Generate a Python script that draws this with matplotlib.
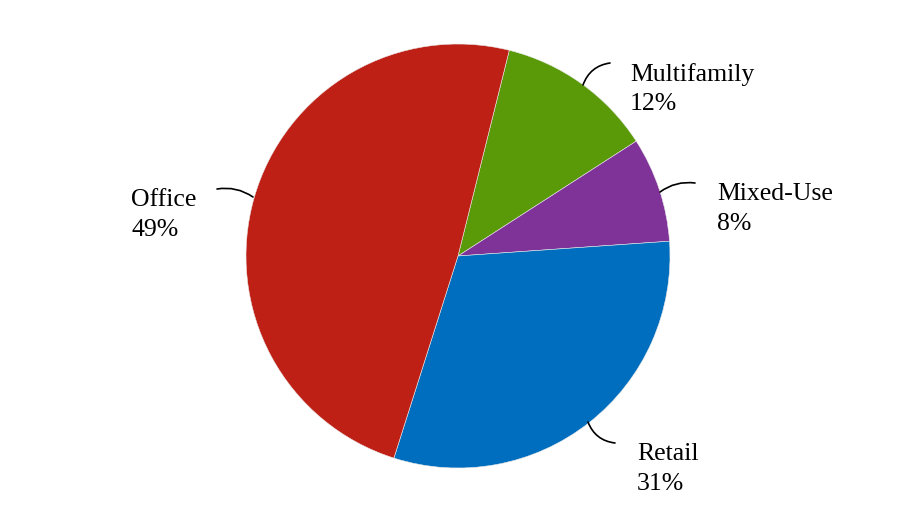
import matplotlib
matplotlib.use("Agg")
import matplotlib.pyplot as plt

categories = ["Multifamily", "Mixed-Use", "Retail", "Office"]
values = [12, 8, 31, 49]
colors = ["#5A9A08", "#7F3399", "#006EBE", "#BE2016"]

fig = plt.figure(figsize=(9.14, 5.12), dpi=100)
cx, cy, r = 458, 256, 212
W, H = 914, 512
ax = fig.add_axes([(cx - r) / W, (H - cy - r) / H, 2 * r / W, 2 * r / H])
ax.pie(values, colors=colors, startangle=76, counterclock=False, radius=1,
       wedgeprops=dict(edgecolor="#e8e8e8", linewidth=0.4))
ax.set_xlim(-1, 1)
ax.set_ylim(-1, 1)
ax.set_aspect("equal")
ax.axis("off")

def d(px, py):
    return ((px - cx) / r, (cy - py) / r)

font = dict(family="Liberation Serif", size=18.5)
labels = {
    "Multifamily": dict(start=(583, 85), end=(610, 63), rad=0.3, text=(630, 89)),
    "Mixed-Use": dict(start=(660, 192), end=(695, 183), rad=0.2, text=(717, 209)),
    "Retail": dict(start=(588, 422), end=(615, 443), rad=-0.3, text=(637, 469)),
    "Office": dict(start=(253, 197), end=(217, 189), rad=-0.2, text=(131, 215)),
}
for cat, v in zip(categories, values):
    L = labels[cat]
    ax.annotate("", xy=d(*L["start"]), xytext=d(*L["end"]), annotation_clip=False,
                arrowprops=dict(arrowstyle="-", color="black", lw=1.2,
                                connectionstyle=f"arc3,rad={L['rad']}",
                                shrinkA=0, shrinkB=0))
    tx, ty = d(*L["text"])
    ax.text(tx, ty, f"{cat}\n{v}%", ha="left", va="center", clip_on=False,
            linespacing=1.45, **font)

fig.savefig("out.png", dpi=100)
